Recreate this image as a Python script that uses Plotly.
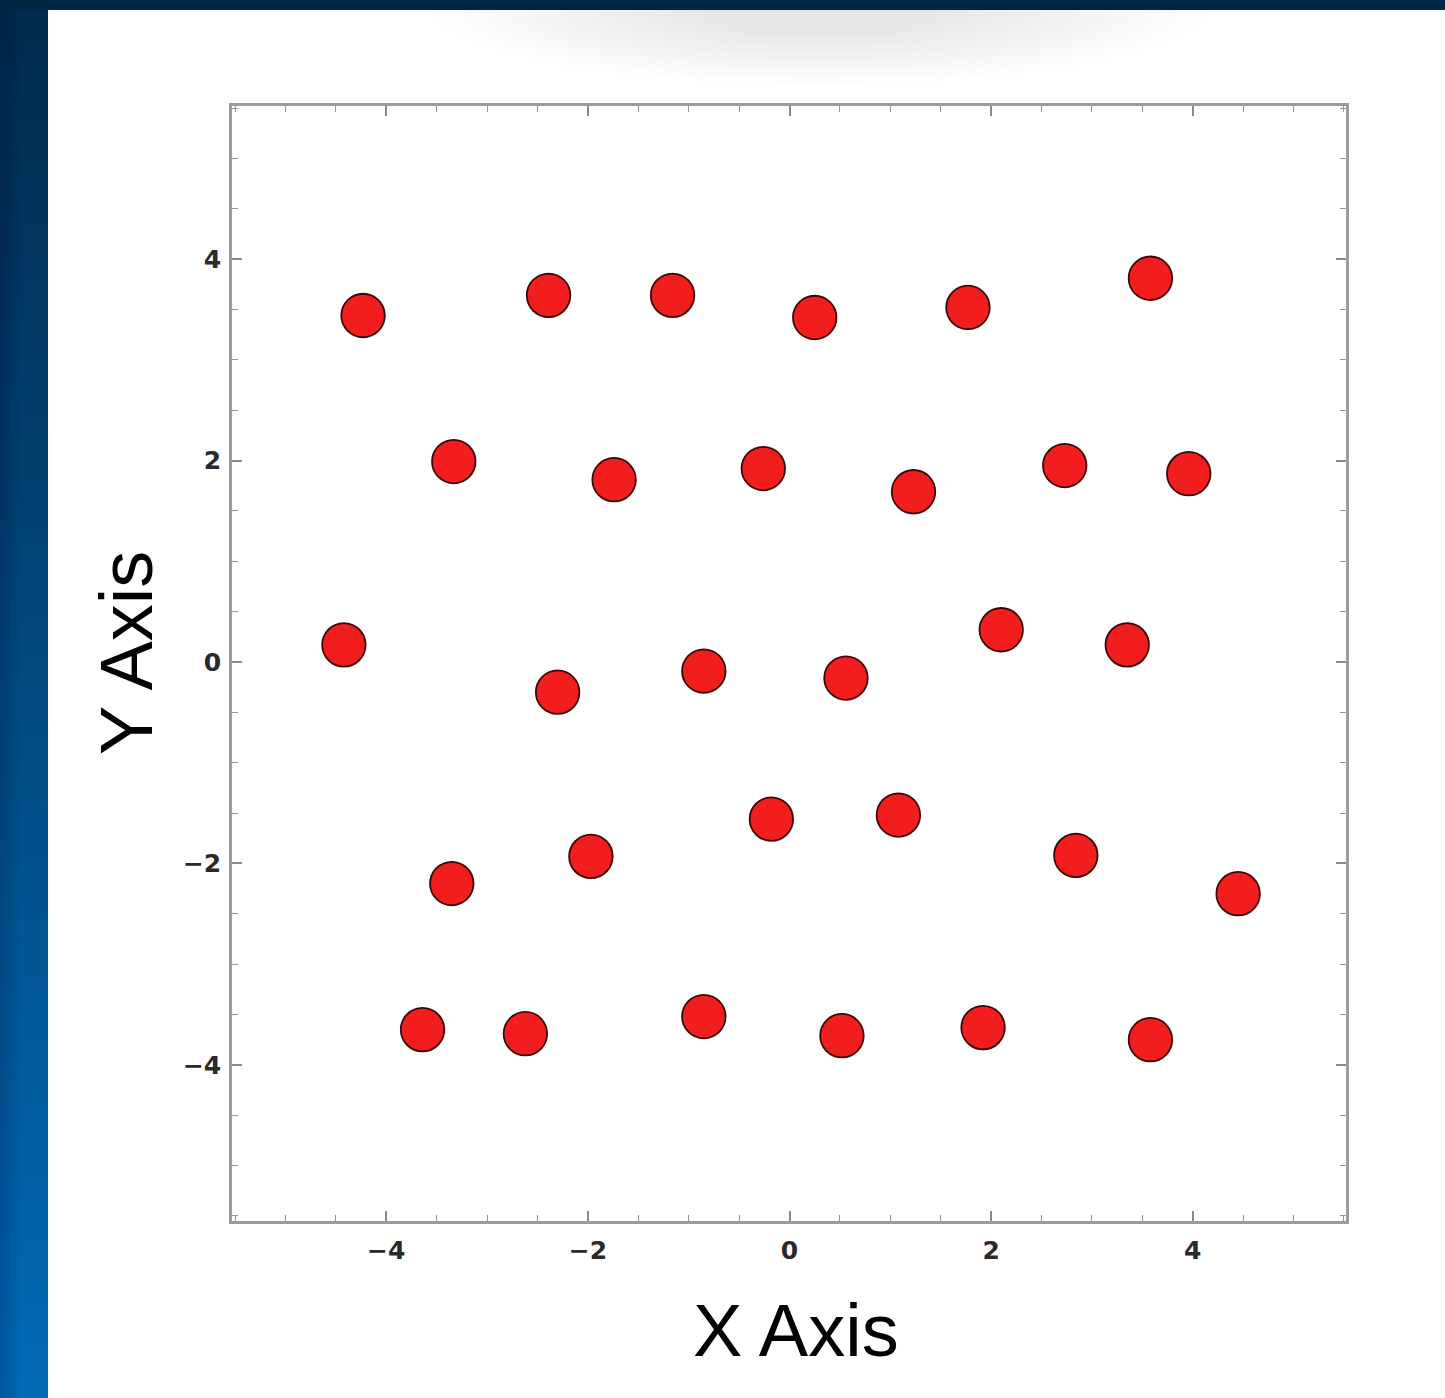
import plotly.graph_objects as go

# Scatter point coordinates
x_values = [
    -4.23, -2.39, -1.16, 0.25, 1.77, 3.58,
    -3.33, -1.74, -0.26, 1.23, 2.73, 3.96,
    -4.42, -2.30, -0.85, 0.56, 2.10, 3.35,
    -3.35, -1.97, -0.18, 1.08, 2.84, 4.45,
    -3.64, -2.62, -0.85, 0.52, 1.92, 3.58,
]
y_values = [
    3.44, 3.64, 3.64, 3.42, 3.52, 3.81,
    1.99, 1.81, 1.92, 1.69, 1.95, 1.87,
    0.17, -0.30, -0.09, -0.16, 0.32, 0.17,
    -2.20, -1.93, -1.56, -1.52, -1.92, -2.30,
    -3.65, -3.69, -3.52, -3.71, -3.63, -3.75,
]
x_tick_values = [-4, -2, 0, 2, 4]
y_tick_values = [-4, -2, 0, 2, 4]
x_title = "X Axis"
y_title = "Y Axis"

W, H = 1445, 1398
L, R, T, B = 232, 1346, 106, 1221  # plot area edges in pixels


def px(xp):
    return (xp - L) / (R - L)


def py(yp):
    return (B - yp) / (B - T)


def lerp_color(c0, c1, t):
    return "rgb({},{},{})".format(*[round(a + (b - a) * t) for a, b in zip(c0, c1)])


shapes = []

# soft grey shadow at the top of the white panel
n_shadow = 24
for i in range(n_shadow):
    f = i / (n_shadow - 1)
    rx = 390 - f * 260
    ry = 82 - f * 52
    cx, cy = 820, 4
    shapes.append(dict(
        type="circle", xref="paper", yref="paper", layer="below",
        x0=px(cx - rx), x1=px(cx + rx), y0=py(cy - ry), y1=py(cy + ry),
        fillcolor="rgba(0,0,0,0.0055)", line=dict(width=0),
    ))

# blue frame strips: vertical gradient on the left, dark band on top
top_c = (1, 42, 75)
bot_c = (1, 106, 182)
n_bands = 70
for i in range(n_bands):
    y0 = H * i / n_bands
    y1 = H * (i + 1) / n_bands
    c = lerp_color(top_c, bot_c, (i + 0.5) / n_bands)
    shapes.append(dict(
        type="rect", xref="paper", yref="paper", layer="below",
        x0=px(0), x1=px(48), y0=py(y1 + 1), y1=py(y0),
        fillcolor=c, line=dict(width=0),
    ))
# slightly darker inner-left edge of the strip
for j in range(6):
    shapes.append(dict(
        type="rect", xref="paper", yref="paper", layer="below",
        x0=px(0), x1=px(4 + j * 3), y0=py(H), y1=py(0),
        fillcolor="rgba(0,20,50,0.025)", line=dict(width=0),
    ))
shapes.append(dict(
    type="rect", xref="paper", yref="paper", layer="below",
    x0=px(0), x1=px(W), y0=py(10), y1=py(0),
    fillcolor="rgb(1,38,68)", line=dict(width=0),
))

fig = go.Figure()
fig.add_trace(go.Scatter(
    x=x_values, y=y_values, mode="markers",
    marker=dict(size=43.5, color="#f21d1d",
                line=dict(color="#3d0606", width=1.8)),
    showlegend=False, hoverinfo="x+y",
))

axis_common = dict(
    showgrid=False, zeroline=False, showline=True,
    linecolor="#9c9c9c", linewidth=2.5, mirror="ticks",
    ticks="inside", ticklen=10, tickwidth=1.6, tickcolor="#8a8a8a",
    tick0=0, dtick=2,
    minor=dict(ticks="inside", ticklen=6, tickwidth=1.3,
               tickcolor="#959595", dtick=0.5, tick0=0),
    tickfont=dict(family="DejaVu Sans, Liberation Sans, sans-serif",
                  size=25, color="#2a2a2a", weight="bold"),
    automargin=False,
)

fig.update_xaxes(range=[-5.53, 5.52], tickvals=x_tick_values,
                 ticklabelstandoff=5, **axis_common)
fig.update_yaxes(range=[-5.55, 5.52], tickvals=y_tick_values,
                 ticklabelstandoff=3, **axis_common)

fig.update_layout(
    width=W, height=H,
    margin=dict(l=L, r=W - R, t=T, b=H - B, pad=0),
    paper_bgcolor="white", plot_bgcolor="white",
    shapes=shapes,
    annotations=[
        dict(text=x_title, xref="paper", yref="paper",
             x=px(796), y=py(1330), xanchor="center", yanchor="middle",
             showarrow=False,
             font=dict(family="Liberation Sans, Arial, sans-serif",
                       size=74, color="black")),
        dict(text=y_title, xref="paper", yref="paper",
             x=px(126), y=py(653), xanchor="center", yanchor="middle",
             textangle=-90, showarrow=False,
             font=dict(family="Liberation Sans, Arial, sans-serif",
                       size=74, color="black")),
    ],
)

fig.write_html("out.html")
